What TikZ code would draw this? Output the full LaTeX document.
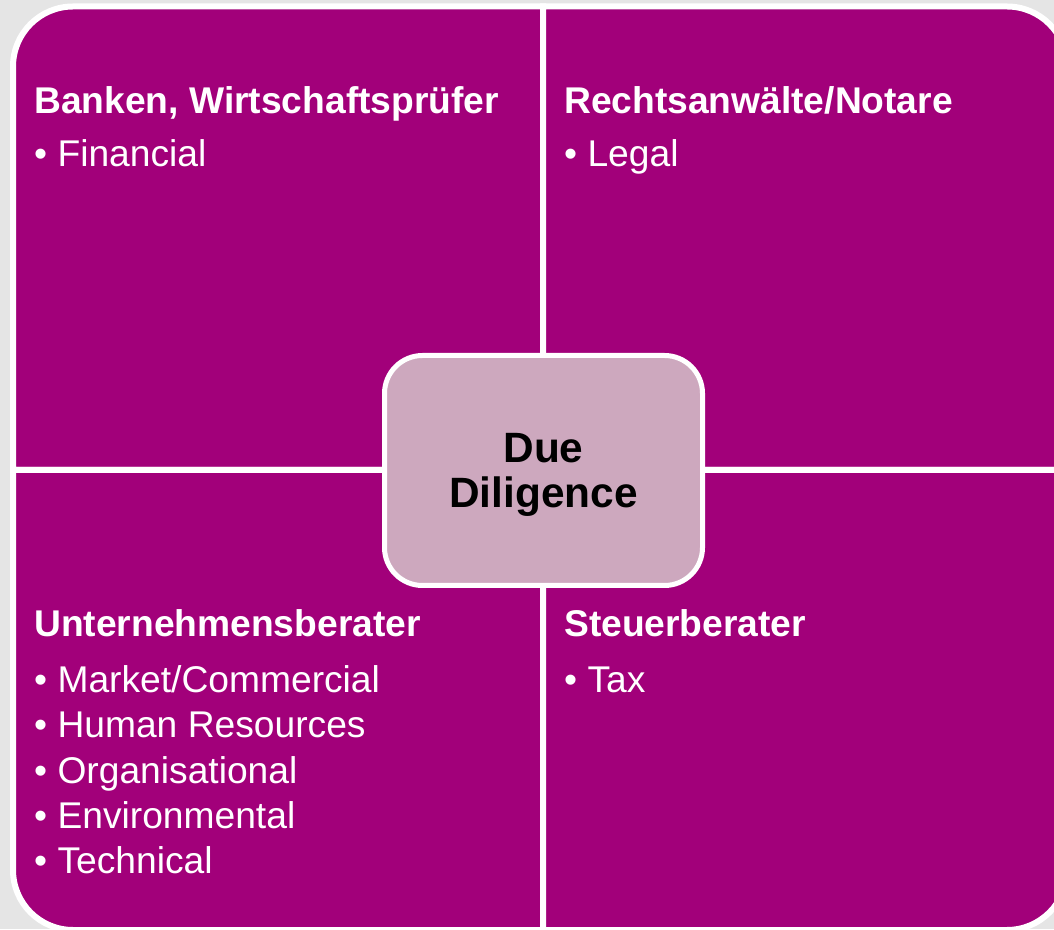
\documentclass[tikz,border=0pt]{standalone}
\usepackage{fontspec}
\setmainfont{Liberation Sans}
\definecolor{berry}{RGB}{162,0,122}
\definecolor{lilac}{RGB}{205,168,190}
\definecolor{bggray}{RGB}{229,229,229}
\begin{document}
\begin{tikzpicture}[x=1pt,y=1pt,
  quad/.style={fill=berry,draw=white,line width=6pt,line join=miter},
  hd/.style={anchor=base west,inner sep=0pt,text=white,font=\fontsize{37.2}{44}\selectfont\bfseries},
  itm/.style={anchor=base west,inner sep=0pt,text=white,font=\fontsize{37.2}{44}\selectfont},
  centerbox/.style={fill=lilac,draw=white,line width=5pt,rounded corners=38pt,minimum width=318pt,minimum height=230pt,inner sep=0pt},
  centertext/.style={inner sep=0pt,align=center,font=\fontsize{42.4}{45}\selectfont\bfseries}]
\fill[bggray] (0,0) rectangle (1054,929);
\useasboundingbox (0,0) rectangle (1054,929);
% quadrants
\path[quad] (543,459) -- (13,459) -- (13,862.5) arc[start angle=180,end angle=90,radius=60] -- (543,922.5) -- cycle;
\path[quad] (543,459) -- (543,922.5) -- (1007,922.5) arc[start angle=90,end angle=0,radius=60] -- (1067,459) -- cycle;
\path[quad] (543,459) -- (13,459) -- (13,59) arc[start angle=180,end angle=270,radius=60] -- (543,-1) -- cycle;
\path[quad] (543,459) -- (1067,459) -- (1067,59) arc[start angle=0,end angle=-90,radius=60] -- (543,-1) -- cycle;
% texts
\node[hd] (t1) at (34,815) {Banken, Wirtschaftsprüfer};
\node[itm] (t1a) at (34,762) {• Financial};
\node[hd] (t2) at (564,815) {Rechtsanwälte/Notare};
\node[itm] (t2a) at (564,762) {• Legal};
\node[hd] (t3) at (34,292) {Unternehmensberater};
\node[itm] (t3a) at (34,236.5) {• Market/Commercial};
\node[itm] (t3b) at (34,191.5) {• Human Resources};
\node[itm] (t3c) at (34,146) {• Organisational};
\node[itm] (t3d) at (34,100.5) {• Environmental};
\node[itm] (t3e) at (34,55.5) {• Technical};
\node[hd] (t4) at (564,292) {Steuerberater};
\node[itm] (t4a) at (564,236.5) {• Tax};
% centre
\node[centerbox] (dd) at (543.5,458.5) {};
\node[centertext] (ddl) at ([yshift=-4pt]dd.center) {Due\\Diligence};
\end{tikzpicture}
\end{document}
